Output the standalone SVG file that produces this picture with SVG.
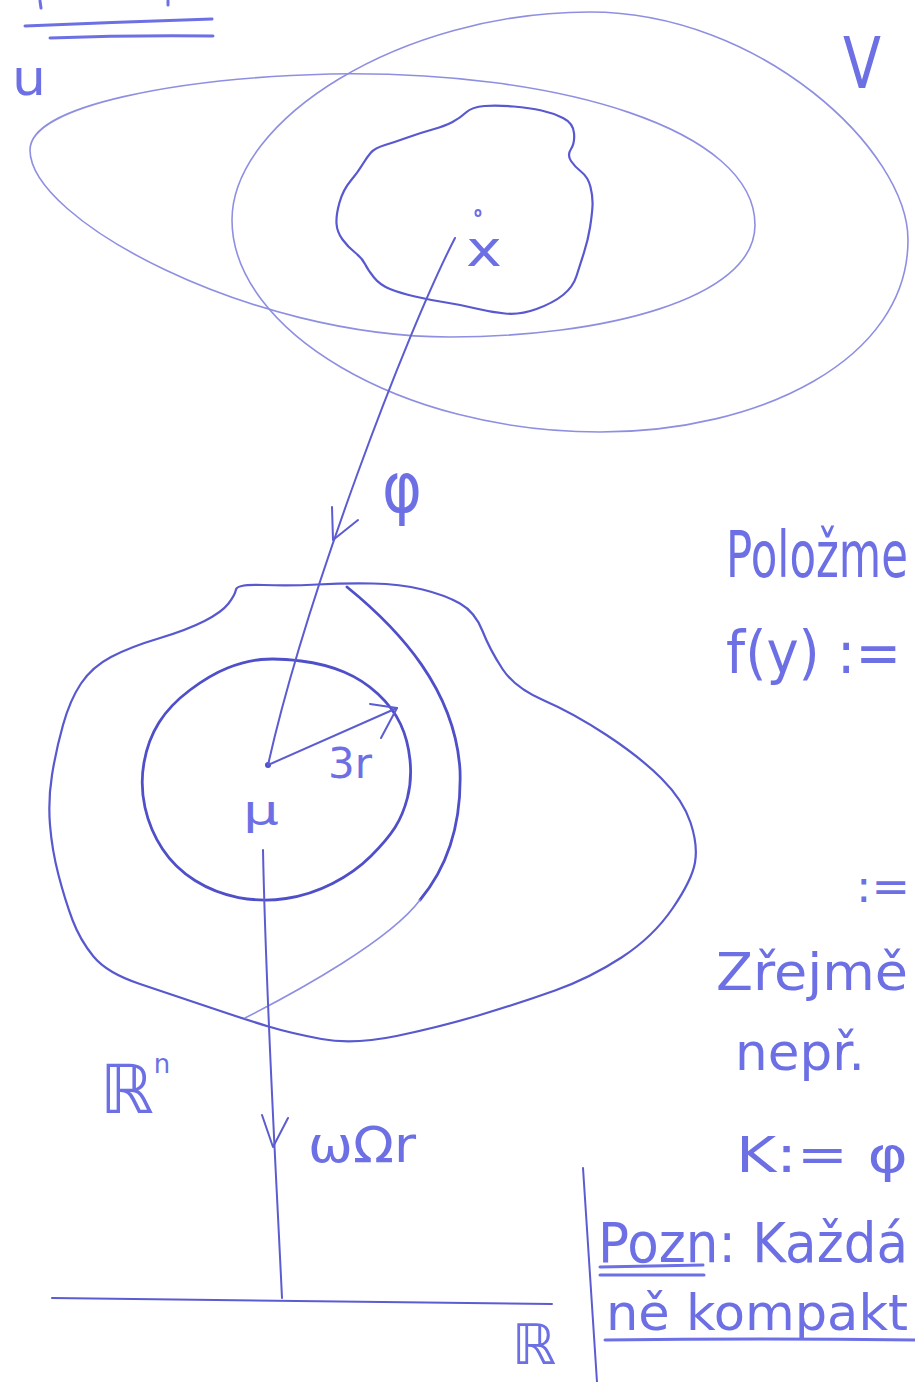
<svg xmlns="http://www.w3.org/2000/svg" width="915" height="1382" viewBox="0 0 915 1382">
<style>
.thin{fill:none;stroke:#8f8fe2;stroke-width:1.6;stroke-linecap:round}
.blob{fill:none;stroke:#5858cf;stroke-width:2.2;stroke-linejoin:round;stroke-linecap:round}
.thick{fill:none;stroke:#4f4fc9;stroke-width:2.8;stroke-linecap:round}
.ln{fill:none;stroke:#5c5cd2;stroke-width:2;stroke-linecap:round;stroke-linejoin:round}
.pen{fill:none;stroke:#6d70e4;stroke-width:3;stroke-linecap:round}
.t{font-family:"DejaVu Sans","Liberation Sans",sans-serif;fill:#6d70e4}
</style>
<rect width="915" height="1382" fill="#ffffff"/>

<g id="top-marks">
<path class="pen" d="M25,26 Q120,22 212,19"/>
<path class="pen" d="M50,38 Q130,35 213,36"/>
<path class="pen" stroke-width="2" d="M40,1 L41,8"/>
<path class="pen" stroke-width="2" d="M168,1 L168,5"/>
</g>

<g id="set-U">
<path class="thin" d="M30,150 C30,105 180,78 330,74 C560,70 755,130 755,225 C755,300 600,337 450,337 C250,337 30,220 30,150 Z"/>
<text class="t" x="12" y="95" font-size="50" textLength="34" lengthAdjust="spacingAndGlyphs">u</text>
</g>

<g id="set-V">
<path class="thin" d="M232,220 C232,120 400,12 590,12 C760,12 908,150 908,240 C908,360 760,432 600,432 C400,432 232,330 232,220 Z"/>
<text class="t" x="843" y="88" font-size="72" textLength="38" lengthAdjust="spacingAndGlyphs">V</text>
</g>

<g id="neighbourhood-x">
<path class="blob" d="M484.5,106 Q497,105 513.5,106.5 Q530,108 541.5,110.5 Q553,113 563,118 Q573,123 574,133 Q575,143 571,149 Q567,155 571,161 Q575,167 581.5,172 Q588,177 590.5,187 Q593,197 592.5,206 Q592,215 590,227.5 Q588,240 584,252.5 Q580,265 576.5,276 Q573,287 563,295 Q553,303 536.5,309 Q520,315 505,313.5 Q490,312 476,308.5 Q462,305 446,302.5 Q430,300 415,296.5 Q400,293 390,289 Q380,285 374,277.5 Q368,270 365,264 Q362,258 355,252.5 Q348,247 342.5,239.5 Q337,232 336.5,223.5 Q336,215 339.5,202.5 Q343,190 350.5,181 Q358,172 362.5,164.5 Q367,157 371,152.5 Q375,148 385,145 Q395,142 407.5,137.5 Q420,133 432.5,129.5 Q445,126 452.5,122 Q460,118 466,112.5 Q472,107 484.5,106 Z"/>
<ellipse cx="478" cy="213" rx="2.5" ry="3" fill="none" stroke="#6d70e4" stroke-width="2"/>
<text class="t" x="466" y="266" font-size="50" textLength="36" lengthAdjust="spacingAndGlyphs">x</text>
</g>

<g id="region-Rn">
<path class="blob" d="M263.5,585 Q290,586 317.5,584.5 Q345,583 372.5,583.5 Q400,584 422.5,589.5 Q445,595 460,603.5 Q475,612 482.5,631 Q490,650 502.5,669 Q515,688 544,700.5 Q573,713 606.5,735 Q640,757 661.5,778.5 Q683,800 690.5,822.5 Q698,845 695,862.5 Q692,880 672.5,908.5 Q653,937 621.5,957.5 Q590,978 555,990.5 Q520,1003 480,1015 Q440,1027 396.5,1036 Q353,1045 321.5,1039 Q290,1033 268.5,1026.5 Q247,1020 210,1007.5 Q173,995 140,984 Q107,973 93.5,956.5 Q80,940 72.5,920 Q65,900 58.5,875 Q52,850 50,825 Q48,800 52,775 Q56,750 63,725 Q70,700 81,683.5 Q92,667 111,657 Q130,647 158.5,638.5 Q187,630 204.5,621 Q222,612 228.5,603.5 Q235,595 236,589.5 Q237,584 263.5,585 Z"/>
<path class="thick" d="M347,587 C400,630 455,690 460,770 C462,830 445,870 420,900"/>
<path class="thin" stroke="#7474d8" d="M420,900 C390,940 300,990 245,1018"/>
<path class="thick" d="M301,661 Q325,664 344,672 Q363,680 378,694 Q393,708 400.5,724 Q408,740 410,760 Q412,780 407.5,797.5 Q403,815 395,827.5 Q387,840 371,856 Q355,872 332.5,883.5 Q310,895 286,898.5 Q262,902 238.5,897.5 Q215,893 195,880.5 Q175,868 162.5,849 Q150,830 145,807.5 Q140,785 144,762.5 Q148,740 159,722.5 Q170,705 190,690 Q210,675 227.5,668 Q245,661 261,659.5 Q277,658 301,661 Z"/>
<circle cx="268" cy="765" r="3" fill="#4f4fc9"/>
<text class="t" x="243" y="824" font-size="40" textLength="36" lengthAdjust="spacingAndGlyphs">μ</text>
<text class="t" x="328" y="778" font-size="42" textLength="44" lengthAdjust="spacingAndGlyphs">3r</text>
<text class="t" x="100" y="1113" font-size="68">ℝ<tspan font-size="26" dy="-40">n</tspan></text>
</g>

<g id="axis-R">
<path class="ln" d="M52,1298 Q300,1300 552,1304"/>
<text class="t" x="512" y="1364" font-size="56">ℝ</text>
</g>

<g id="connectors">
<path class="ln" d="M455,238 C405,335 305,600 268,765"/>
<path class="ln" d="M332,507 L333,540 L358,520"/>
<path class="ln" d="M268,765 L397,708"/>
<path class="ln" d="M370,704 L397,708 L381,738"/>
<path class="ln" d="M263,850 C266,1000 275,1150 282,1298"/>
<path class="ln" d="M262,1115 L273,1147 L288,1118"/>
</g>

<g id="labels">
<text class="t" x="382" y="512" font-size="70" textLength="40" lengthAdjust="spacingAndGlyphs">φ</text>
<text class="t" x="308" y="1162" font-size="50" textLength="108" lengthAdjust="spacingAndGlyphs">ωΩr</text>
</g>

<g id="notes">
<path class="ln" d="M583,1168 Q590,1280 597,1382"/>
<text class="t" transform="translate(726,577) scale(1,1.5)" x="0" y="0" font-size="43" textLength="182" lengthAdjust="spacingAndGlyphs">Položme</text>
<text class="t" x="726" y="673" font-size="58" textLength="175" lengthAdjust="spacingAndGlyphs">f(y) :=</text>
<text class="t" x="856" y="902" font-size="44" textLength="54" lengthAdjust="spacingAndGlyphs">:=</text>
<text class="t" x="716" y="990" font-size="52" textLength="192" lengthAdjust="spacingAndGlyphs">Zřejmě</text>
<text class="t" x="735" y="1070" font-size="52" textLength="130" lengthAdjust="spacingAndGlyphs">nepř.</text>
<text class="t" x="736" y="1172" font-size="50" textLength="172" lengthAdjust="spacingAndGlyphs">K:= φ</text>
<text class="t" transform="translate(598,1262) scale(1,1.12)" x="0" y="0" font-size="50" textLength="310" lengthAdjust="spacingAndGlyphs">Pozn: Každá</text>
<path class="pen" d="M600,1267 L703,1265"/>
<path class="pen" d="M600,1275 L704,1275"/>
<text class="t" x="606" y="1330" font-size="50" textLength="302" lengthAdjust="spacingAndGlyphs">ně kompakt</text>
<path class="pen" stroke-width="2.4" d="M605,1340 Q760,1338 915,1340"/>
</g>
</svg>
